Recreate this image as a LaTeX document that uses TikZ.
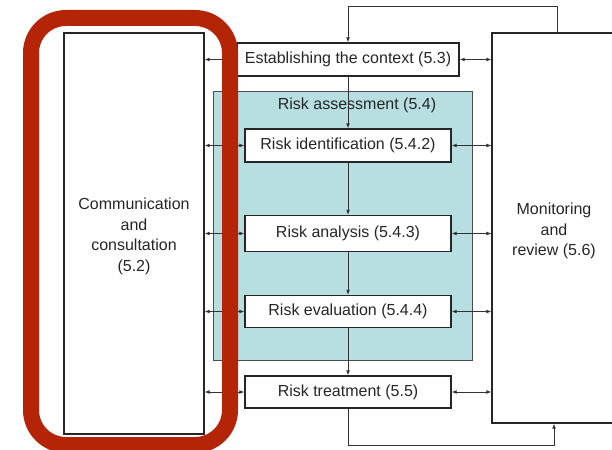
\documentclass[tikz,border=0pt]{standalone}
\usepackage{fontspec}
\setmainfont{Liberation Sans}
\usetikzlibrary{arrows.meta}
\definecolor{tealfill}{RGB}{183,223,226}
\definecolor{redframe}{RGB}{180,36,6}
\begin{document}
\begin{tikzpicture}[x=1pt,y=-1pt,
  txt/.style={font=\fontsize{16}{20.5}\selectfont, text=black!85},
  box/.style={txt, draw=black!85, line width=1.3pt, fill=white, inner sep=0pt, align=center},
  link/.style={draw=black!80, line width=0.9pt, -{Latex[length=5pt,width=4pt]}},
  dbl/.style={draw=black!80, line width=0.9pt, {Latex[length=5pt,width=4pt]}-{Latex[length=5pt,width=4pt]}}]
\useasboundingbox (0,0) rectangle (612,449);
\fill[white] (0,0) rectangle (612,449);
% big side boxes
\node[box, minimum width=140, minimum height=401] (comm) at (134,233.5) {\rule{0pt}{17pt}Communication\\and\\consultation\\(5.2)};
\node[box, minimum width=124, minimum height=390] (mon) at (554,228) {\rule{0pt}{18pt}Monitoring\\and\\review (5.6)};
% risk assessment area
\node[draw=black!70, line width=1pt, fill=tealfill, minimum width=259, minimum height=268] (ra) at (342.5,226) {};
\node[txt] (ratitle) at (357,105) {Risk assessment (5.4)};
% process boxes
\node[box, minimum width=222, minimum height=33] (ctx) at (348,59.5) {Establishing the context (5.3)};
\node[box, minimum width=206, minimum height=33] (rid) at (348,145.5) {Risk identification (5.4.2)};
\node[box, minimum width=206, minimum height=36] (ran) at (348,233.5) {Risk analysis (5.4.3)};
\node[box, minimum width=206, minimum height=32] (rev) at (348,311.5) {Risk evaluation (5.4.4)};
\node[box, minimum width=206, minimum height=32] (rtr) at (348,392) {Risk treatment (5.5)};
% vertical flow
\draw[link] (ctx.south) -- (rid.north);
\draw[link] (rid.south) -- (ran.north);
\draw[link] (ran.south) -- (rev.north);
\draw[link] (rev.south) -- (rtr.north);
% loops
\coordinate (topturn) at (557,6);
\draw[link] (topturn |- mon.north) -- (topturn) -| (ctx.north);
\coordinate (botturn) at (554,445);
\draw[link] (rtr.south) |- (botturn) -- (botturn |- mon.south);
% side exchanges
\foreach \n in {ctx,rid,ran,rev,rtr}{
  \draw[dbl] (comm.east |- \n.west) -- (\n.west);
  \draw[dbl] (\n.east) -- (\n.east -| mon.west);
}
% highlight frame
\draw[redframe, line width=16pt, rounded corners=35] (31,18) rectangle (230,445);
\end{tikzpicture}
\end{document}
